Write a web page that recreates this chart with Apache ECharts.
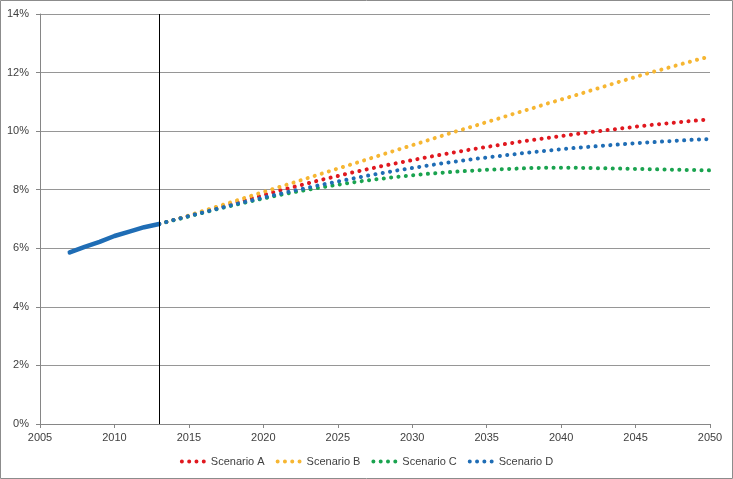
<!DOCTYPE html>
<html>
<head>
<meta charset="utf-8">
<script src="https://cdn.jsdelivr.net/npm/echarts@6/dist/echarts.min.js"></script>
<style>
  html, body { margin: 0; padding: 0; background: #fff; }
  #main { width: 733px; height: 479px; }
</style>
</head>
<body>
<div id="main"></div>
<script>
// historical (solid line) 2007-2013
var histYears = [2007, 2008, 2009, 2010, 2011, 2012, 2013]
var histValues = [5.86, 6.05, 6.22, 6.42, 6.57, 6.72, 6.83]

// projection years 2013-2050
var projYears = [2013, 2014, 2015, 2016, 2017, 2018, 2019, 2020, 2021, 2022,
  2023, 2024, 2025, 2026, 2027, 2028, 2029, 2030, 2031, 2032,
  2033, 2034, 2035, 2036, 2037, 2038, 2039, 2040, 2041, 2042,
  2043, 2044, 2045, 2046, 2047, 2048, 2049, 2050]

var scenarioA = [6.83, 6.97, 7.11, 7.25, 7.40, 7.54, 7.68, 7.82, 7.96, 8.09,
  8.22, 8.35, 8.47, 8.59, 8.70, 8.81, 8.91, 9.01, 9.11, 9.20,
  9.29, 9.38, 9.46, 9.54, 9.62, 9.69, 9.76, 9.83, 9.90, 9.97,
  10.03, 10.09, 10.15, 10.21, 10.26, 10.31, 10.36, 10.40]
var scenarioB = [6.83, 6.97, 7.12, 7.28, 7.44, 7.60, 7.76, 7.92, 8.08, 8.24,
  8.40, 8.56, 8.72, 8.88, 9.04, 9.20, 9.36, 9.52, 9.68, 9.84,
  10.00, 10.15, 10.31, 10.46, 10.62, 10.77, 10.93, 11.08, 11.23, 11.39,
  11.54, 11.70, 11.85, 12.00, 12.14, 12.28, 12.42, 12.55]
var scenarioC = [6.83, 6.96, 7.09, 7.22, 7.35, 7.47, 7.59, 7.70, 7.81, 7.91,
  8.00, 8.09, 8.17, 8.25, 8.32, 8.38, 8.44, 8.49, 8.54, 8.58,
  8.62, 8.65, 8.68, 8.70, 8.72, 8.74, 8.75, 8.75, 8.75, 8.74,
  8.73, 8.72, 8.71, 8.70, 8.69, 8.68, 8.67, 8.66]
var scenarioD = [6.83, 6.97, 7.10, 7.23, 7.36, 7.49, 7.61, 7.73, 7.85, 7.96,
  8.07, 8.18, 8.28, 8.38, 8.48, 8.57, 8.66, 8.74, 8.82, 8.90,
  8.97, 9.04, 9.10, 9.16, 9.22, 9.28, 9.33, 9.38, 9.43, 9.47,
  9.51, 9.55, 9.59, 9.62, 9.65, 9.68, 9.71, 9.73]

var scenarioNames = ['Scenario A', 'Scenario B', 'Scenario C', 'Scenario D']
var scenarioColors = ['#e0181f', '#f6b632', '#1aa34f', '#1f6db5']
var yTicks = [0, 2, 4, 6, 8, 10, 12, 14]
var divideYear = 2013

function pairs(xs, ys) {
  var out = []
  for (var i = 0; i < xs.length; i++) out.push([xs[i], ys[i]])
  return out
}

var font = '"Liberation Sans", "Noto Sans", sans-serif'
var dotsIcon = 'path://M0,2a2,2 0 1,0 4,0a2,2 0 1,0 -4,0z' +
  'M7.3,2a2,2 0 1,0 4,0a2,2 0 1,0 -4,0z' +
  'M14.6,2a2,2 0 1,0 4,0a2,2 0 1,0 -4,0z' +
  'M21.9,2a2,2 0 1,0 4,0a2,2 0 1,0 -4,0z'

var scenData = [scenarioA, scenarioB, scenarioC, scenarioD]
var series = [{
  name: 'Historical',
  type: 'line',
  data: pairs(histYears, histValues),
  symbol: 'none',
  lineStyle: { color: '#1f6db5', width: 4.5, cap: 'round' },
  itemStyle: { color: '#1f6db5' },
  markLine: {
    silent: true,
    symbol: 'none',
    label: { show: false },
    lineStyle: { color: '#000', width: 1, type: 'solid' },
    data: [{ xAxis: divideYear }]
  },
  z: 3
}]
for (var k = 0; k < scenarioNames.length; k++) {
  series.push({
    name: scenarioNames[k],
    type: 'line',
    data: pairs(projYears, scenData[k]),
    symbol: 'none',
    lineStyle: { color: scenarioColors[k], width: 4, type: [0.1, 7.3], cap: 'round' },
    itemStyle: { color: scenarioColors[k] },
    z: 2
  })
}

var chart = echarts.init(document.getElementById('main'))
chart.setOption({
  animation: false,
  backgroundColor: '#fff',
  grid: { left: 40, right: 23, top: 14, bottom: 55 },
  xAxis: {
    type: 'value',
    min: 2005,
    max: 2050,
    interval: 5,
    axisLine: { show: true, lineStyle: { color: '#868686' } },
    axisTick: { show: true, length: 4, lineStyle: { color: '#868686' } },
    splitLine: { show: false },
    axisLabel: { color: '#404040', fontSize: 11, fontFamily: font, margin: 8, formatter: function (v) { return String(v) } }
  },
  yAxis: {
    type: 'value',
    min: yTicks[0],
    max: yTicks[yTicks.length - 1],
    interval: 2,
    axisLine: { show: true, lineStyle: { color: '#868686' } },
    axisTick: { show: true, length: 4, lineStyle: { color: '#868686' } },
    splitLine: { show: true, lineStyle: { color: '#969696', width: 1 } },
    axisLabel: { color: '#404040', fontSize: 11, fontFamily: font, margin: 11, formatter: function (v) { return v + '%' } }
  },
  legend: {
    data: scenarioNames,
    bottom: 7,
    left: 'center',
    icon: dotsIcon,
    itemWidth: 26,
    itemHeight: 4,
    itemGap: 11,
    textStyle: { color: '#404040', fontSize: 11, fontFamily: font }
  },
  graphic: [{
    type: 'rect',
    shape: { x: 0.5, y: 0.5, width: 732, height: 478 },
    style: { fill: 'none', stroke: '#8c8c8c', lineWidth: 1 },
    silent: true
  }],
  series: series
})
</script>
</body>
</html>
